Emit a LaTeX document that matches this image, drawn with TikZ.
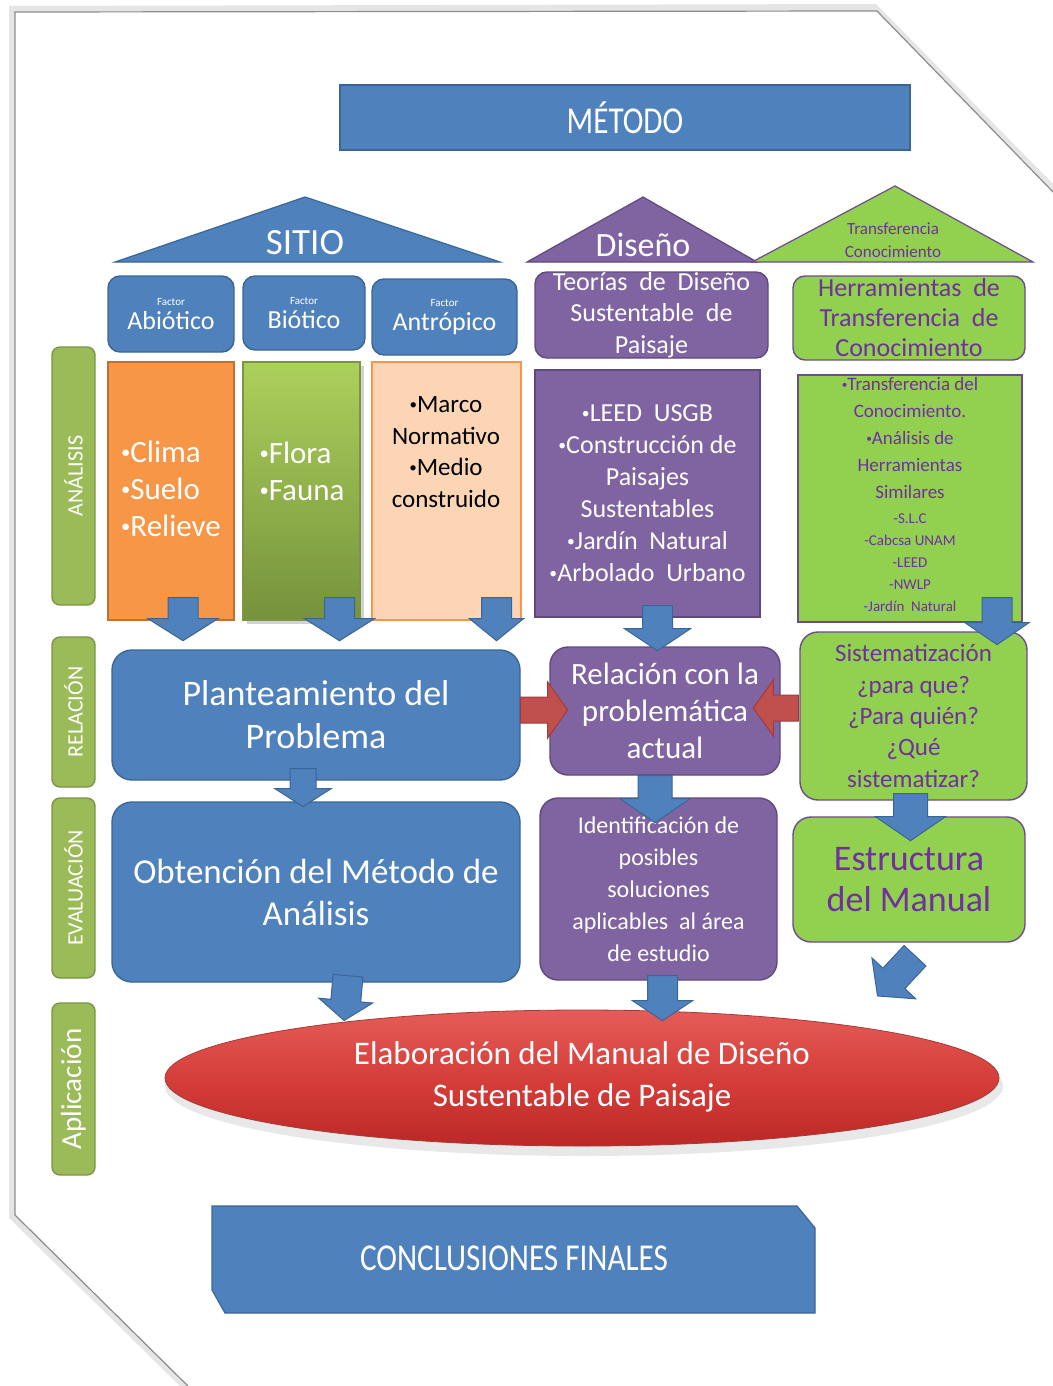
\documentclass[tikz,border=0pt]{standalone}
\usepackage{fontspec}
\setmainfont{Carlito}
\newfontfamily\cond[FakeStretch=0.82]{Carlito}
\usetikzlibrary{calc,shadows}
\definecolor{ablue}{HTML}{4F81BD}
\definecolor{ablueD}{HTML}{3A6696}
\definecolor{apurp}{HTML}{8064A2}
\definecolor{apurpD}{HTML}{5E4A7C}
\definecolor{agreen}{HTML}{92D050}
\definecolor{gborder}{HTML}{6E4A8E}
\definecolor{gtext}{HTML}{7030A0}
\definecolor{lgreen}{HTML}{9BBB59}
\definecolor{lgreenD}{HTML}{7A9645}
\definecolor{aorange}{HTML}{F79646}
\definecolor{aorangeD}{HTML}{C0702F}
\definecolor{apeach}{HTML}{FCD5B5}
\definecolor{ared}{HTML}{C0504D}
\definecolor{aredD}{HTML}{A33B38}
\newcommand\fsz[2]{\fontsize{#1}{#2}\selectfont}
\newcommand\bul{\raisebox{0.12em}{\scalebox{0.6}{•}}}
\newcommand\blockarrow[7][]{%
  \filldraw[arrowblue,#1,shift={(#2)},rotate=#3] (0,{-#5}) -- ({#4-#7},{-#5}) -- ({#4-#7},{-#6}) -- (#4,0) -- ({#4-#7},#6) -- ({#4-#7},#5) -- (0,#5) -- cycle;}
\tikzset{
  box/.style={draw, line width=0.7pt, align=center, inner sep=0pt},
  sqblue/.style={box, fill=ablue, draw=ablueD, text=white},
  rblue/.style={sqblue, rounded corners=6pt},
  rpurp/.style={box, fill=apurp, draw=apurpD, text=white, rounded corners=6pt},
  sqpurp/.style={box, fill=apurp, draw=apurpD, text=white},
  rgreen/.style={box, fill=agreen, draw=gborder, text=gtext, rounded corners=6pt},
  sqgreen/.style={box, fill=agreen, draw=gborder, text=gtext},
  lbl/.style={box, fill=lgreen, draw=lgreenD, text=white, rounded corners=4pt, rotate=90, minimum height=21.5pt},
  txt/.style={align=center, inner sep=0pt},
  arrowblue/.style={fill=ablue, draw=ablueD, line width=0.5pt},
  arrowred/.style={fill=ared, draw=aredD, line width=0.5pt},
}
\begin{document}
\begin{tikzpicture}[x=0.5pt,y=-0.5pt]
\useasboundingbox (0,0) rectangle (1053,1386);
% page
\fill[white] (0,0) rectangle (1053,1386);
\fill[black!10] (9,6) -- (876,4) -- (1053,184) -- (1053,1386) -- (180,1386) -- (9,1218) -- cycle;
\fill[white] (15,12) -- (877,11) -- (1053,192) -- (1053,1386) -- (188,1386) -- (15,1215) -- cycle;
\draw[black!45, line width=0.6pt] (1053,192) -- (877,11) -- (15,12) -- (15,1215) -- (188,1386);

% title
\node[sqblue, minimum width=285pt, minimum height=32.5pt, font=\cond\fsz{19}{22}] (metodo) at (625,117.5) {MÉTODO};

% roofs
\filldraw[fill=ablue, draw=ablueD, line width=0.6pt] (115,262) -- (305,197) -- (500,262) -- cycle;
\node[txt, text=white, font=\fsz{18.5}{22}] (sitio) at (305,243) {SITIO};
\filldraw[fill=apurp, draw=apurpD, line width=0.6pt] (527,262) -- (643,197) -- (757,262) -- cycle;
\node[txt, text=white, font=\fsz{17}{20}] (diseno) at (643,245) {Diseño};
\filldraw[fill=agreen, draw=gborder, line width=0.6pt] (752,262) -- (895,186) -- (1033,262) -- cycle;
\node[txt, text=gtext, font=\fsz{8.5}{11.5}] (transfT) at (893,240) {Transferencia\\Conocimiento};

% factor boxes
\node[rblue, minimum width=63pt, minimum height=38pt] (abio) at (171,314) {\fsz{5.5}{6}Factor\\\fsz{13}{14.5}Abiótico};
\node[rblue, minimum width=61pt, minimum height=37pt] (bio) at (304,313) {\fsz{5.5}{6}Factor\\\fsz{13}{14.5}Biótico};
\node[rblue, minimum width=72.5pt, minimum height=38pt] (antro) at (444.5,317) {\fsz{5.5}{6}Factor\\\fsz{13}{14.5}Antrópico};

% content boxes
\node[box, fill=aorange, draw=aorangeD, minimum width=63pt, minimum height=129pt] (clima) at (171,491) {};
\node[txt, align=left, text=white, font=\fsz{15.5}{18.5}] (climaT) at (171,489) {\bul Clima\\\bul Suelo\\\bul Relieve};
\node[box, top color={rgb,255:red,172;green,208;blue,92}, bottom color={rgb,255:red,118;green,146;blue,60}, draw=lgreenD, minimum width=58.5pt, minimum height=129pt, drop shadow={opacity=0.35, shadow xshift=2pt, shadow yshift=-2pt}] (flora) at (301.5,491) {};
\node[txt, align=left, text=white, font=\fsz{15.5}{18.5}] (floraT) at (302,471) {\bul Flora\\\bul Fauna};
\node[box, fill=apeach, draw=aorange, minimum width=74.5pt, minimum height=129pt] (marco) at (446.5,491) {};
\node[txt, text=black, font=\fsz{12.5}{15.7}] (marcoT) at (446,452) {\bul Marco\\Normativo\\\bul Medio\\construido};

\node[rpurp, minimum width=116.5pt, minimum height=43pt, font=\fsz{13}{15.7}] (teorias) at (651.5,315) {Teorías \ de \ Diseño\\Sustentable \ de\\Paisaje};
\node[sqpurp, minimum width=112.5pt, minimum height=123.5pt, font=\fsz{13}{16}] (leed) at (647.5,493.5) {\bul LEED \ USGB\\\bul Construcción de\\Paisajes\\Sustentables\\\bul Jardín \ Natural\\\bul Arbolado \ Urbano};

\node[rgreen, minimum width=116pt, minimum height=42pt, font=\fsz{13}{15}] (herr) at (909,318) {Herramientas \ de\\Transferencia \ de\\Conocimiento};
\node[sqgreen, minimum width=112pt, minimum height=123.5pt] (transf) at (910,498.5) {};
\node[txt, text=gtext, font=\fsz{9.5}{13.5}] (transfA) at (910,438) {\bul Transferencia del\\Conocimiento.\\\bul Análisis de\\Herramientas\\Similares};
\node[txt, text=gtext, font=\fsz{7.5}{11}] (transfB) at (910,563) {-S.L.C\\-Cabcsa UNAM\\-LEED\\-NWLP\\-Jardín \ Natural};

% phase labels
\node[lbl, minimum width=129pt, font=\fsz{11}{13}] (lanal) at (73.5,476) {ANÁLISIS};
\node[lbl, minimum width=75pt, font=\fsz{11}{13}] (lrel) at (73.5,712) {RELACIÓN};
\node[lbl, minimum width=90pt, font=\fsz{11}{13}] (leval) at (73.5,888) {EVALUACIÓN};
\node[lbl, minimum width=86pt, font=\fsz{14.5}{16}] (lapl) at (73.5,1089) {Aplicación};

% middle rows
\node[rblue, rounded corners=10pt, minimum width=204pt, minimum height=65pt, font=\fsz{18}{21.5}] (plant) at (316,715) {Planteamiento del\\Problema};
\node[rblue, rounded corners=10pt, minimum width=204pt, minimum height=90pt, font=\fsz{17.5}{21}] (obt) at (316,892) {Obtención del Método de\\Análisis};
\node[rpurp, rounded corners=9pt, minimum width=115pt, minimum height=64pt, font=\fsz{15.5}{18.5}] (rel) at (665,711) {Relación con la\\problemática\\actual};
\node[rpurp, rounded corners=9pt, minimum width=118.5pt, minimum height=91pt, font=\fsz{12}{16}] (ident) at (658.5,889) {Identificación de\\posibles\\soluciones\\aplicables \ al área\\de estudio};
\node[rgreen, rounded corners=9pt, minimum width=113.5pt, minimum height=84pt, font=\fsz{12.5}{15.7}] (sist) at (913.5,716) {Sistematización\\¿para que?\\¿Para quién?\\¿Qué\\sistematizar?};
\node[rgreen, rounded corners=9pt, minimum width=116pt, minimum height=62.5pt, font=\fsz{18}{20.5}] (estr) at (909,879.5) {Estructura\\del Manual};

% application ellipse
\fill[black!9] (584,1086) ellipse [x radius=419, y radius=70];
\shade[top color={rgb,255:red,228;green,92;blue,88}, bottom color={rgb,255:red,188;green,40;blue,38}, middle color={rgb,255:red,214;green,62;blue,58}] (582,1078) ellipse [x radius=417, y radius=68];
\draw[aredD, line width=0.4pt] (582,1078) ellipse [x radius=417, y radius=68];
\node[txt, text=white, font=\fsz{16.5}{21}] (elab) at (582,1077) {Elaboración del Manual de Diseño\\Sustentable de Paisaje};

% conclusions
\filldraw[fill=ablue, draw=ablueD, line width=0.6pt] (212,1206) -- (797,1206) -- (815,1228) -- (815,1313) -- (225,1313) -- (212,1290) -- cycle;
\node[txt, text=white, font=\cond\fsz{19}{22}] (concl) at (514,1258) {CONCLUSIONES FINALES};

% block arrows (tail, angle, length, shaft half, head half, head length)
\coordinate (a1) at ($(clima.south)+(12,-23)$);
\coordinate (a2) at ($(flora.south)+(38,-23)$);
\coordinate (a3) at ($(marco.south)+(50,-23)$);
\blockarrow{a1}{-90}{43}{15}{35}{22}
\blockarrow{a2}{-90}{43}{15}{35}{22}
\blockarrow{a3}{-90}{43}{15}{27}{22}
\coordinate (a4) at ($(leed.south)+(10,-12)$);
\blockarrow{a4}{-90}{45}{15}{33}{22}
\coordinate (a5) at ($(transf.south)+(87,-25)$);
\blockarrow{a5}{-90}{47}{15}{32}{22}
\coordinate (a6) at ($(plant.south)+(-13,-12)$);
\blockarrow{a6}{-90}{38}{13}{28}{18}
\coordinate (a7) at ($(rel.south)+(-10,0)$);
\blockarrow{a7}{-90}{47}{17}{35}{24}
\coordinate (a8) at ($(sist.south)+(-3,-7)$);
\blockarrow{a8}{-90}{47}{17}{35}{24}
\coordinate (a9) at ($(obt.south)+(32,-7)$);
\blockarrow{a9}{-95}{45}{15}{27}{20}
\coordinate (a10) at ($(ident.south)+(4,-5)$);
\blockarrow{a10}{-90}{45}{15}{30}{20}
\coordinate (a11) at ($(estr.south)+(6,13)$);
\blockarrow{a11}{-133}{55}{15}{30}{24}
% red arrows
\coordinate (r1) at ($(plant.east)+(0,-5)$);
\blockarrow[arrowred]{r1}{0}{47}{13}{28}{20}
\coordinate (r2) at ($(sist.west)+(-1,-8)$);
\blockarrow[arrowred]{r2}{180}{45}{13}{28}{20}
\end{tikzpicture}
\end{document}
